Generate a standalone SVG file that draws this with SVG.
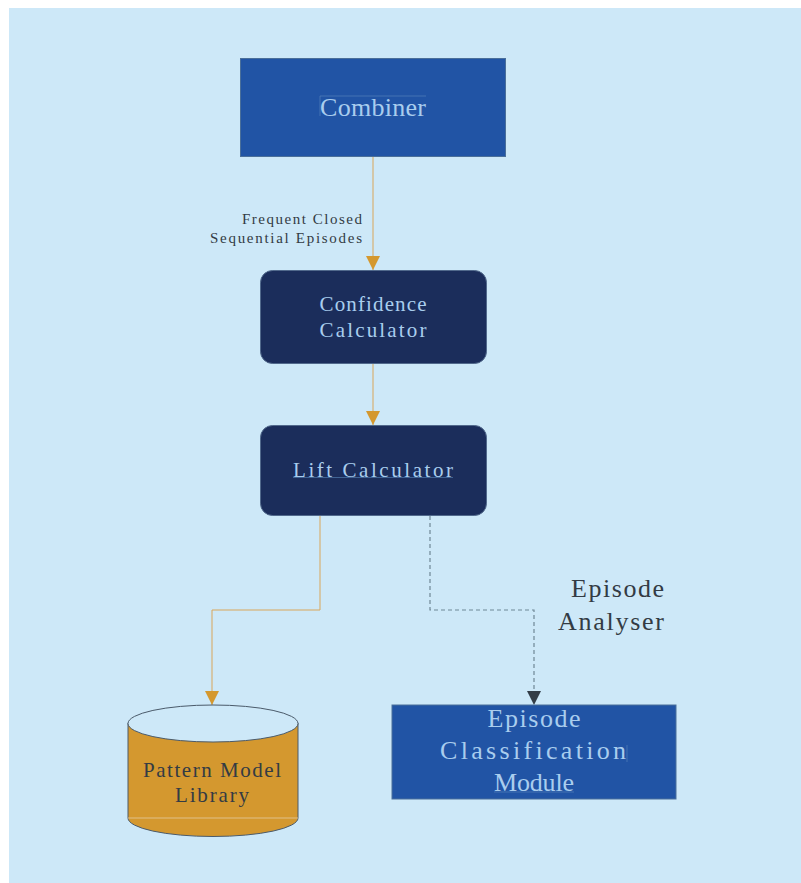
<svg xmlns="http://www.w3.org/2000/svg" width="801" height="883" viewBox="0 0 801 883">
  <style>
    .lbl-light { font-family: "Liberation Serif", "DejaVu Serif", serif; fill: #A9CDEE; text-anchor: middle; }
    .lbl-dark { font-family: "Liberation Serif", "DejaVu Serif", serif; fill: #333B44; }
    .box-blue { fill: #2154A5; stroke: #4A6F9A; stroke-width: 1; }
    .box-navy { fill: #1B2D5B; stroke: #51698C; stroke-width: 1; }
    .flow { fill: none; stroke: #D9A65A; stroke-width: 1; }
    .flow-dash { fill: none; stroke: #6F8796; stroke-width: 1.2; stroke-dasharray: 4 3; }
    .deco { stroke: #5A88BC; stroke-width: 0.6; fill: none; }
  </style>
  <defs>
    <marker id="arrow-orange" viewBox="0 0 10 10" refX="10" refY="5" markerWidth="14" markerHeight="14" markerUnits="userSpaceOnUse" orient="auto">
      <path d="M0,0 L10,5 L0,10 z" fill="#D4982F"/>
    </marker>
    <marker id="arrow-dark" viewBox="0 0 10 10" refX="10" refY="5" markerWidth="14" markerHeight="14" markerUnits="userSpaceOnUse" orient="auto">
      <path d="M0,0 L10,5 L0,10 z" fill="#333D47"/>
    </marker>
  </defs>

  <rect x="0" y="0" width="801" height="883" fill="#FFFFFF"/>
  <rect x="9" y="8" width="792" height="875" fill="#CDE8F8"/>

  <g id="connectors">
    <path class="flow" d="M373,157 V270" marker-end="url(#arrow-orange)"/>
    <path class="flow" d="M373,364 V425" marker-end="url(#arrow-orange)"/>
    <path class="flow" d="M320,516 V610 H212 V705" marker-end="url(#arrow-orange)"/>
    <path class="flow-dash" d="M430,516 V610 H534 V705" marker-end="url(#arrow-dark)"/>
    <text class="lbl-dark" x="362" y="224" font-size="15" text-anchor="end" textLength="120" lengthAdjust="spacing">Frequent Closed</text>
    <text class="lbl-dark" x="362" y="243" font-size="15" text-anchor="end" textLength="152" lengthAdjust="spacing">Sequential Episodes</text>
  </g>

  <g id="combiner">
    <rect class="box-blue" x="240.5" y="58.5" width="265" height="98"/>
    <path class="deco" d="M320,96 H426 M320,96 V116"/>
    <text class="lbl-light" x="373" y="116" font-size="26" textLength="106" lengthAdjust="spacing">Combiner</text>
  </g>

  <g id="confidence-calculator">
    <rect class="box-navy" x="260.5" y="270.5" width="226" height="93" rx="12"/>
    <text class="lbl-light" x="373" y="311" font-size="21" textLength="107" lengthAdjust="spacing">Confidence</text>
    <text class="lbl-light" x="373" y="337" font-size="21" textLength="107" lengthAdjust="spacing">Calculator</text>
  </g>

  <g id="lift-calculator">
    <rect class="box-navy" x="260.5" y="425.5" width="226" height="90" rx="12"/>
    <text class="lbl-light" x="373" y="477" font-size="21" textLength="160" lengthAdjust="spacing">Lift Calculator</text>
    <path class="deco" d="M293,477.5 H453"/>
  </g>

  <g id="pattern-model-library">
    <path d="M128,723 V818 A85,18.5 0 0 0 298,818 V723 Z" fill="#D4982F" stroke="#4A5A6A" stroke-width="1"/>
    <path d="M128,818 H298" stroke="#E0C08A" stroke-width="1"/>
    <ellipse cx="213" cy="723.5" rx="85" ry="18.5" fill="#CDE8F8" stroke="#4A5A6A" stroke-width="1"/>
    <text class="lbl-dark" x="212" y="777" font-size="21" text-anchor="middle" textLength="138" lengthAdjust="spacing">Pattern Model</text>
    <text class="lbl-dark" x="212" y="802" font-size="21" text-anchor="middle" textLength="74" lengthAdjust="spacing">Library</text>
  </g>

  <g id="episode-analyser-label">
    <text class="lbl-dark" x="664" y="597" font-size="26" text-anchor="end" textLength="93" lengthAdjust="spacing">Episode</text>
    <text class="lbl-dark" x="664" y="630" font-size="26" text-anchor="end" textLength="106" lengthAdjust="spacing">Analyser</text>
  </g>

  <g id="episode-classification-module">
    <rect class="box-blue" x="392" y="705" width="284" height="94"/>
    <text class="lbl-light" x="534" y="727" font-size="26" textLength="93" lengthAdjust="spacing">Episode</text>
    <text class="lbl-light" x="533" y="759" font-size="26" textLength="186" lengthAdjust="spacing">Classification</text>
    <path class="deco" d="M627,745 V762"/>
    <text class="lbl-light" x="534" y="791" font-size="26" textLength="80" lengthAdjust="spacing">Module</text>
    <path class="deco" d="M494,792 H574"/>
  </g>
</svg>
